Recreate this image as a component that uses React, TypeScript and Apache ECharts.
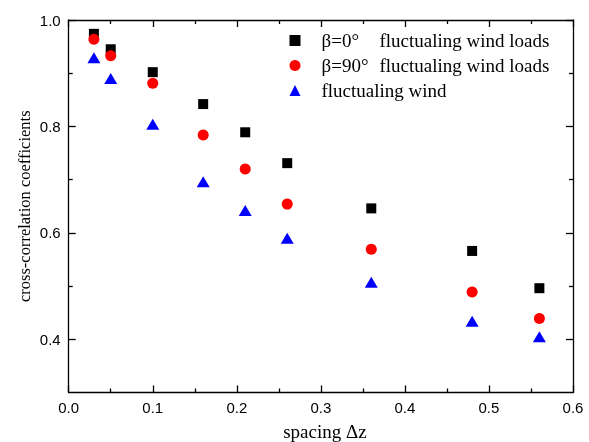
import React, { useEffect, useRef } from "react";
import * as echarts from "echarts";

const xValues = [0.03, 0.05, 0.1, 0.16, 0.21, 0.26, 0.36, 0.48, 0.56];
const beta0 = [0.974, 0.945, 0.902, 0.842, 0.789, 0.731, 0.646, 0.566, 0.496];
const beta90 = [0.964, 0.933, 0.881, 0.784, 0.72, 0.654, 0.569, 0.489, 0.439];
const wind = [0.929, 0.89, 0.804, 0.696, 0.642, 0.59, 0.507, 0.434, 0.405];
const seriesNames = ["β=0° fluctualing wind loads", "β=90° fluctualing wind loads", "fluctualing wind"];
const yMajorTicks = [0.4, 0.6, 0.8, 1.0];
const yMinorTicks = [0.5, 0.7, 0.9];

const serif = "'Liberation Serif', 'Times New Roman', serif";
const sans = "'Liberation Sans', Arial, sans-serif";

export default function App() {
  const ref = useRef<HTMLDivElement>(null);
  useEffect(() => {
    const chart = echarts.init(ref.current!, null, { renderer: "svg" });
    const lineStyle = { color: "#000", width: 1.3 };
    const mkY = (pos: string, ticks: number[], len: number, showLine: boolean, labels: boolean, name?: string) => ({
      type: "value",
      position: pos,
      min: 0.3,
      max: 1.0,
      interval: 0.1,
      offset: 0,
      name: name,
      nameLocation: "middle",
      nameGap: 36,
      nameMoveOverlap: false,
      nameTextStyle: { fontFamily: serif, fontSize: 16.5, color: "#000" },
      axisLine: { show: showLine, onZero: false, lineStyle },
      axisTick: { show: true, inside: true, length: len, customValues: ticks, lineStyle },
      axisLabel: {
        show: labels,
        customValues: yMajorTicks,
        formatter: (v: number) => v.toFixed(1),
        fontFamily: sans,
        fontSize: 15,
        color: "#000",
        margin: 8,
      },
      splitLine: { show: false },
    });
    const mkX = (pos: string, labels: boolean, name?: string) => ({
      type: "value",
      position: pos,
      min: 0,
      max: 0.6,
      interval: 0.1,
      name: name,
      nameLocation: "middle",
      nameGap: 29,
      nameMoveOverlap: false,
      nameTextStyle: { fontFamily: serif, fontSize: 19, color: "#000", padding: [0, 0, 0, 8] },
      axisLine: { show: true, onZero: false, lineStyle },
      axisTick: { show: true, inside: true, length: 7, lineStyle },
      minorTick: { show: true, splitNumber: 2, length: 4, lineStyle },
      axisLabel: {
        show: labels,
        formatter: (v: number) => v.toFixed(1),
        fontFamily: sans,
        fontSize: 15,
        color: "#000",
        margin: 7,
      },
      splitLine: { show: false },
      minorSplitLine: { show: false },
    });
    const mkData = (ys: number[]) => xValues.map((x, i) => [x, ys[i]]);
    const legendRich = {
      s: { width: 16, lineHeight: 19 },
      a: { width: 58, fontFamily: serif, fontSize: 19, color: "#000", lineHeight: 19 },
      b: { fontFamily: serif, fontSize: 19, color: "#000", lineHeight: 19 },
    };
    chart.setOption({
      animation: false,
      grid: { left: 68.7, right: 16, top: 20, bottom: 49.5, containLabel: false, outerBoundsMode: "none" },
      xAxis: [mkX("bottom", true, "spacing Δz"), mkX("top", false)],
      yAxis: [
        mkY("left", yMajorTicks, 7, true, true, "cross-correlation coefficients"),
        mkY("left", yMinorTicks, 4, false, false),
        mkY("right", yMajorTicks, 7, true, false),
        mkY("right", yMinorTicks, 4, false, false),
      ],
      legend: {
        left: 289.5,
        top: 31,
        padding: 0,
        orient: "vertical",
        itemWidth: 11,
        itemHeight: 11,
        itemGap: 6,
        textStyle: { fontFamily: serif, fontSize: 19, color: "#000", lineHeight: 19, rich: legendRich },
        formatter: (name: string) => {
          if (name === seriesNames[0]) return "{s|}{a|β=0°}{b|fluctualing wind loads}";
          if (name === seriesNames[1]) return "{s|}{a|β=90°}{b|fluctualing wind loads}";
          return "{s|}{b|fluctualing wind}";
        },
        data: [
          { name: seriesNames[0], icon: "rect", itemStyle: { opacity: 1 } },
          { name: seriesNames[1], icon: "circle", itemStyle: { opacity: 1 } },
          { name: seriesNames[2], icon: "triangle", itemStyle: { opacity: 1 } },
        ],
      },
      series: [
        { name: seriesNames[0], type: "scatter", data: mkData(beta0), symbol: "rect", symbolSize: 10, itemStyle: { color: "#000000", opacity: 1 } },
        { name: seriesNames[1], type: "scatter", data: mkData(beta90), symbol: "circle", symbolSize: 11, itemStyle: { color: "#ff0000", opacity: 1 } },
        { name: seriesNames[2], type: "scatter", data: mkData(wind), symbol: "triangle", symbolSize: [13, 11], itemStyle: { color: "#0000ff", opacity: 1 } },
      ],
    });
    return () => chart.dispose();
  }, []);
  return <div ref={ref} style={{ width: 589, height: 442, position: "fixed", left: 0, top: 0 }} />;
}
